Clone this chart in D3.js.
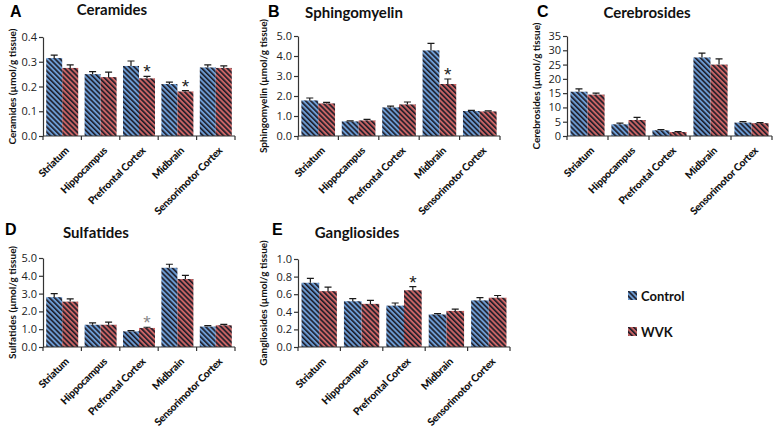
<!DOCTYPE html>
<html><head><meta charset="utf-8">
<script src="https://cdn.jsdelivr.net/npm/d3@7"></script>
<style>body{margin:0;background:#fff}svg{display:block}text{font-family:Lato,"Open Sans",sans-serif}</style>
</head><body><svg id="c" width="776" height="432"></svg>
<script>
const categories = ["Striatum","Hippocampus","Prefrontal Cortex","Midbrain","Sensorimotor Cortex"];
const seriesNames = ["Control","WVK"];

const ceramidesControl = [0.315,0.250,0.283,0.210,0.277];
const ceramidesControlErr = [0.012,0.010,0.020,0.008,0.010];
const ceramidesWVK = [0.275,0.238,0.233,0.180,0.275];
const ceramidesWVKErr = [0.012,0.020,0.008,0.003,0.008];
const ceramidesTicks = ["0.0","0.1","0.2","0.3","0.4"];

const sphingoControl = [1.78,0.73,1.43,4.28,1.25];
const sphingoControlErr = [0.12,0.03,0.06,0.35,0.03];
const sphingoWVK = [1.63,0.78,1.58,2.60,1.23];
const sphingoWVKErr = [0.05,0.05,0.12,0.25,0.03];
const sphingoTicks = ["0.0","1.0","2.0","3.0","4.0","5.0"];

const cerebroControl = [15.5,4.1,2.0,27.5,4.7];
const cerebroControlErr = [1.0,0.4,0.2,1.5,0.3];
const cerebroWVK = [14.5,5.6,1.4,25.0,4.5];
const cerebroWVKErr = [0.5,0.9,0.1,2.0,0.2];
const cerebroTicks = ["0","5","10","15","20","25","30","35"];

const sulfControl = [2.80,1.25,0.88,4.45,1.15];
const sulfControlErr = [0.20,0.10,0.04,0.20,0.05];
const sulfWVK = [2.55,1.25,1.07,3.82,1.22];
const sulfWVKErr = [0.15,0.15,0.04,0.20,0.05];
const sulfTicks = ["0.0","1.0","2.0","3.0","4.0","5.0"];

const gangControl = [0.73,0.52,0.47,0.37,0.53];
const gangControlErr = [0.05,0.03,0.03,0.01,0.03];
const gangWVK = [0.635,0.49,0.645,0.41,0.56];
const gangWVKErr = [0.045,0.04,0.04,0.02,0.025];
const gangTicks = ["0.0","0.2","0.4","0.6","0.8","1.0"];

// significance stars: [categoryIndex, seriesIndex]
const ceramidesStars = [[2,1],[3,1]];
const sphingoStars = [[3,1]];
const cerebroStars = [];
const sulfStars = [[2,1]];
const gangStars = [[2,1]];

const svg = d3.select("#c");
const defs = svg.append("defs");
const baseColors = ["#6c9bd2","#c96464"];
["pb","pr"].forEach((id,i)=>{
  const p = defs.append("pattern").attr("id",id).attr("patternUnits","userSpaceOnUse")
    .attr("width",3.6).attr("height",3.6).attr("patternTransform","rotate(-45)");
  p.append("rect").attr("width",3.6).attr("height",3.6).attr("fill",baseColors[i]);
  p.append("rect").attr("x",0).attr("width",1.6).attr("height",3.6).attr("fill","#1c1c28");
});
const fills = ["url(#pb)","url(#pr)"];

const panels = [
  {letter:"A", title:"Ceramides", ylab:"Ceramides (µmol/g tissue)", c:ceramidesControl, ce:ceramidesControlErr, w:ceramidesWVK, we:ceramidesWVKErr, ticks:ceramidesTicks, stars:ceramidesStars, starCol:"#222",
   x0:43, x1:235, yTop:37, yBot:136, lx:10, ly:17, tx:112, ty:15, ylx:12},
  {letter:"B", title:"Sphingomyelin", ylab:"Sphingomyelin (µmol/g tissue)", c:sphingoControl, ce:sphingoControlErr, w:sphingoWVK, we:sphingoWVKErr, ticks:sphingoTicks, stars:sphingoStars, starCol:"#222",
   x0:298, x1:500, yTop:36, yBot:136, lx:268, ly:17, tx:354, ty:18, ylx:263},
  {letter:"C", title:"Cerebrosides", ylab:"Cerebrosides (µmol/g tissue)", c:cerebroControl, ce:cerebroControlErr, w:cerebroWVK, we:cerebroWVKErr, ticks:cerebroTicks, stars:cerebroStars, starCol:"#222",
   x0:567, x1:772, yTop:36, yBot:136, lx:537, ly:17, tx:647, ty:18, ylx:536},
  {letter:"D", title:"Sulfatides", ylab:"Sulfatides (µmol/g tissue)", c:sulfControl, ce:sulfControlErr, w:sulfWVK, we:sulfWVKErr, ticks:sulfTicks, stars:sulfStars, starCol:"#888",
   x0:43, x1:235, yTop:258, yBot:347, lx:5, ly:235, tx:96, ty:238, ylx:12},
  {letter:"E", title:"Gangliosides", ylab:"Gangliosides (µmol/g tissue)", c:gangControl, ce:gangControlErr, w:gangWVK, we:gangWVKErr, ticks:gangTicks, stars:gangStars, starCol:"#222",
   x0:298, x1:510, yTop:259, yBot:347, lx:272, ly:235, tx:357, ty:238, ylx:263}
];

panels.forEach(P=>{
  const g = svg.append("g");
  const tickVals = P.ticks.map(Number);
  const y = d3.scaleLinear().domain([0, d3.max(tickVals)]).range([P.yBot, P.yTop]);
  const x = d3.scaleBand().domain(categories).range([P.x0, P.x1]).paddingInner(0).paddingOuter(0);
  const xs = d3.scaleBand().domain(seriesNames).range([0, x.bandwidth()]).paddingInner(0).paddingOuter(0.2);

  const series = [P.c, P.w];
  const errs = [P.ce, P.we];
  series.forEach((vals,si)=>{
    g.selectAll(null).data(categories).enter().append("rect")
      .attr("x",d=>x(d)+xs(seriesNames[si]))
      .attr("y",(d,i)=>y(vals[i]))
      .attr("width",xs.bandwidth())
      .attr("height",(d,i)=>y(0)-y(vals[i]))
      .attr("fill",fills[si]);
    g.selectAll(null).data(categories).enter().append("path")
      .attr("d",(d,i)=>{
        const cx = x(d)+xs(seriesNames[si])+xs.bandwidth()/2;
        const yt = y(vals[i]+errs[si][i]), yb = y(vals[i]);
        return `M${cx},${yb}V${yt}M${cx-3.5},${yt}H${cx+3.5}`;
      })
      .attr("stroke","#1a1a1a").attr("stroke-width",1.2).attr("fill","none");
  });
  // stars
  g.selectAll(null).data(P.stars).enter().append("text")
    .attr("x",d=>x(categories[d[0]])+xs(seriesNames[d[1]])+xs.bandwidth()/2)
    .attr("y",d=>y(series[d[1]][d[0]]+errs[d[1]][d[0]])+2)
    .attr("text-anchor","middle").attr("font-size",19).attr("fill",P.starCol)
    .style("font-family","'Liberation Sans',Arial,sans-serif").text("*");

  // y axis
  const ya = d3.axisLeft(y).tickValues(tickVals).tickFormat((d,i)=>P.ticks[i]).tickSize(4).tickSizeOuter(0);
  const yg = g.append("g").attr("transform",`translate(${P.x0},0)`).call(ya);
  yg.select(".domain").attr("stroke","#333").attr("stroke-width",1.2);
  yg.selectAll(".tick line").attr("stroke","#333").attr("stroke-width",1.2);
  yg.selectAll(".tick text").attr("font-size",11).attr("fill","#222").attr("x",-6).style("font-family","'Open Sans',sans-serif");

  // x axis
  g.append("line").attr("x1",P.x0).attr("x2",P.x1).attr("y1",P.yBot).attr("y2",P.yBot)
    .attr("stroke","#333").attr("stroke-width",1.2);
  const bounds = categories.map(c=>x(c)).concat([P.x1]);
  g.selectAll(null).data(bounds).enter().append("line")
    .attr("x1",d=>d).attr("x2",d=>d).attr("y1",P.yBot).attr("y2",P.yBot+4)
    .attr("stroke","#333").attr("stroke-width",1.2);
  g.selectAll(null).data(categories).enter().append("text")
    .attr("transform",d=>`translate(${x(d)+x.bandwidth()/2+2},${P.yBot+10}) rotate(-45)`)
    .attr("text-anchor","end").attr("dy","0.72em").attr("font-size",10.3).attr("font-weight","900")
    .attr("letter-spacing","-0.25px")
    .attr("fill","#111").text(d=>d);

  // y label
  g.append("text").attr("transform",`translate(${P.ylx},${(P.yTop+P.yBot)/2}) rotate(-90)`)
    .attr("text-anchor","middle").attr("dy","0.35em").attr("font-size",10).attr("font-weight","bold")
    .attr("fill","#111").text(P.ylab);
  // title
  g.append("text").attr("x",P.tx).attr("y",P.ty).attr("text-anchor","middle")
    .attr("font-size",15).attr("font-weight","bold").attr("fill","#111").text(P.title);
  // panel letter
  g.append("text").attr("x",P.lx).attr("y",P.ly).attr("font-size",16).attr("font-weight","bold")
    .attr("fill","#000").style("font-family","'Liberation Sans',Arial,sans-serif").text(P.letter);
});

// legend
const lg = svg.append("g");
seriesNames.forEach((n,i)=>{
  const yy = 296 + i*36;
  lg.append("rect").attr("x",628).attr("y",yy-5).attr("width",9).attr("height",9).attr("fill",fills[i]);
  lg.append("text").attr("x",641).attr("y",yy).attr("dy","0.35em").attr("font-size",13).attr("font-weight","bold")
    .attr("fill","#111").text(n);
});
</script></body></html>
